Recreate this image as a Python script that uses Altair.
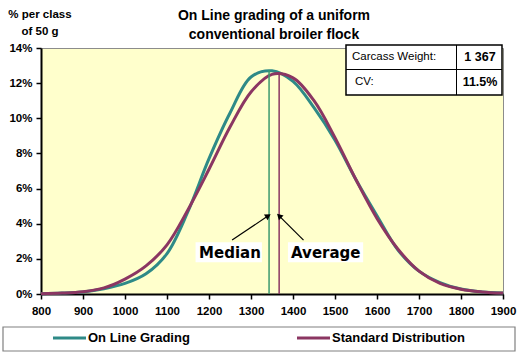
import altair as alt
import pandas as pd

weights = [800, 850, 900, 950, 1000, 1050, 1100, 1150, 1200, 1250, 1300, 1350,
           1400, 1450, 1500, 1550, 1600, 1650, 1700, 1750, 1800, 1850, 1900]
online = [0.02, 0.05, 0.12, 0.30, 0.60, 1.15, 2.30, 4.70, 7.70, 10.30, 12.35, 12.70,
          12.10, 10.60, 8.75, 6.50, 4.45, 2.50, 1.30, 0.65, 0.28, 0.11, 0.05]
standard = [0.02, 0.05, 0.13, 0.35, 0.85, 1.60, 2.80, 4.80, 7.10, 9.50, 11.50, 12.50,
            12.30, 11.00, 8.90, 6.50, 4.30, 2.55, 1.30, 0.60, 0.27, 0.12, 0.05]
series_names = ["On Line Grading", "Standard Distribution"]
series_colors = ["#2E8A87", "#8B3662"]

median_x, median_top = 1343, 12.75
average_x, average_top = 1367, 12.6
table_labels = ["Carcass Weight:", "CV:"]
table_values = ["1 367", "11.5%"]
title_lines = ["On Line grading of a uniform", "conventional broiler flock"]
ytitle_lines = ["% per class", "of 50 g"]
x_ticks = [800, 900, 1000, 1100, 1200, 1300, 1400, 1500, 1600, 1700, 1800, 1900]
y_ticks = [0, 2, 4, 6, 8, 10, 12, 14]

FONT = "Liberation Sans"
ONE = pd.DataFrame({"a": [0]})

df_on = pd.DataFrame({"w": weights, "pct": online})
df_st = pd.DataFrame({"w": weights, "pct": standard})

xs = alt.Scale(domain=[800, 1900], nice=False)
ys = alt.Scale(domain=[0, 14], nice=False)

xax = alt.Axis(values=x_ticks, format="d", title=None,
               labelFont=FONT, labelFontWeight="bold", labelFontSize=11.5,
               labelColor="black", domainColor="black", domainWidth=2,
               tickColor="black", tickSize=5, tickWidth=1.5, labelPadding=6,
               grid=False, labelFlush=False)
yax = alt.Axis(values=y_ticks, labelExpr="datum.value + '%'", title=None,
               labelFont=FONT, labelFontWeight="bold", labelFontSize=11.5,
               labelColor="black", domainColor="black", domainWidth=2,
               tickColor="black", tickSize=5, tickWidth=1.5, labelPadding=4,
               grid=False)


def X(field):
    return alt.X(field, type="quantitative", scale=xs, axis=xax, title=None)


def Y(field):
    return alt.Y(field, type="quantitative", scale=ys, axis=yax, title=None)


line_on = alt.Chart(df_on).mark_line(color=series_colors[0], strokeWidth=3,
                                     interpolate="catmull-rom").encode(x=X("w"), y=Y("pct"))
line_st = alt.Chart(df_st).mark_line(color=series_colors[1], strokeWidth=3,
                                     interpolate="catmull-rom").encode(x=X("w"), y=Y("pct"))

df_rules = pd.DataFrame({"w": [median_x, average_x], "top": [median_top, average_top],
                         "bot": [0, 0], "c": ["#3C9A6E", "#8B3662"]})
rules = alt.Chart(df_rules).mark_rule(strokeWidth=1.5).encode(
    x=X("w"), y=Y("top"), y2="bot:Q", color=alt.Color("c:N", scale=None))

# annotation labels
df_ann = pd.DataFrame({"t": ["Median", "Average"], "x": [1250, 1478], "y": [2.35, 2.35],
                       "x1": [1168, 1388], "x2": [1326, 1567],
                       "y1": [1.8, 1.8], "y2": [2.95, 2.95]})
ann_box = alt.Chart(df_ann).mark_rect(color="white").encode(
    x=X("x1"), x2="x2:Q", y=Y("y1"), y2="y2:Q")
ann_txt = alt.Chart(df_ann).mark_text(font="DejaVu Sans", fontWeight="bold", fontSize=15,
                                      color="black").encode(
    x=X("x"), y=Y("y"), text="t:N")

df_arr = pd.DataFrame({"x": [1255, 1425], "y": [3.07, 3.07],
                       "xe": [1341, 1367], "ye": [4.45, 4.45], "ang": [57, 314]})
arr_line = alt.Chart(df_arr).mark_rule(color="black", strokeWidth=1.2).encode(
    x=X("x"), y=Y("y"), x2="xe:Q", y2="ye:Q")
arr_head = alt.Chart(df_arr).mark_point(shape="triangle-up", filled=True, color="black",
                                        size=45, opacity=1).encode(
    x=X("xe"), y=Y("ye"), angle=alt.Angle("ang:Q", scale=None))

layers = [line_on, line_st, rules, ann_box, ann_txt, arr_line, arr_head]

# table (top right)
layers.append(alt.Chart(ONE).mark_rect(fill="white", stroke="black", strokeWidth=1.5).encode(
    x=alt.value(305), x2=alt.value(461), y=alt.value(-3), y2=alt.value(47)))
layers.append(alt.Chart(ONE).mark_rule(color="black", strokeWidth=1).encode(
    x=alt.value(305), x2=alt.value(461), y=alt.value(21.5)))
layers.append(alt.Chart(ONE).mark_rule(color="black", strokeWidth=1).encode(
    x=alt.value(415.5), y=alt.value(-3), y2=alt.value(47)))
for i, (lab, val) in enumerate(zip(table_labels, table_values)):
    yy = 9 + 25 * i
    layers.append(alt.Chart(ONE).mark_text(font=FONT, fontSize=11.5, align="left",
                                           baseline="middle", color="black").encode(
        x=alt.value(311 + 3 * i), y=alt.value(yy), text=alt.value(lab)))
    layers.append(alt.Chart(ONE).mark_text(font=FONT, fontSize=12.5, fontWeight="bold",
                                           align="center", baseline="middle",
                                           color="black").encode(
        x=alt.value(439), y=alt.value(yy), text=alt.value(val)))

# titles
for i, t in enumerate(title_lines):
    layers.append(alt.Chart(ONE).mark_text(font=FONT, fontSize=14, fontWeight="bold",
                                           baseline="middle", color="black").encode(
        x=alt.value(233), y=alt.value(-32 + 19 * i), text=alt.value(t)))
for i, t in enumerate(ytitle_lines):
    layers.append(alt.Chart(ONE).mark_text(font=FONT, fontSize=11.5, fontWeight="bold",
                                           baseline="middle", color="black").encode(
        x=alt.value(-1), y=alt.value(-33 + 17 * i), text=alt.value(t)))

# legend
layers.append(alt.Chart(ONE).mark_rect(fill="white", stroke="#808080", strokeWidth=1.2).encode(
    x=alt.value(-38), x2=alt.value(474), y=alt.value(279), y2=alt.value(303)))
leg_x = [12, 256]
for name, col, lx in zip(series_names, series_colors, leg_x):
    layers.append(alt.Chart(ONE).mark_rule(strokeWidth=3, color=col).encode(
        x=alt.value(lx), x2=alt.value(lx + 33), y=alt.value(290)))
    layers.append(alt.Chart(ONE).mark_text(font=FONT, fontSize=13, fontWeight="bold",
                                           align="left", baseline="middle",
                                           color="black").encode(
        x=alt.value(lx + 35), y=alt.value(290), text=alt.value(name)))

chart = alt.layer(*layers).properties(
    width=462, height=246,
    autosize=alt.AutoSizeParams(type="none"),
    padding={"left": 41, "top": 48, "right": 17, "bottom": 60},
    background="white"
).configure_view(fill="#FFFFCC", stroke="#8C8C8C", strokeWidth=1)

chart.save("out.html", embed_options={"renderer": "svg", "actions": False})
